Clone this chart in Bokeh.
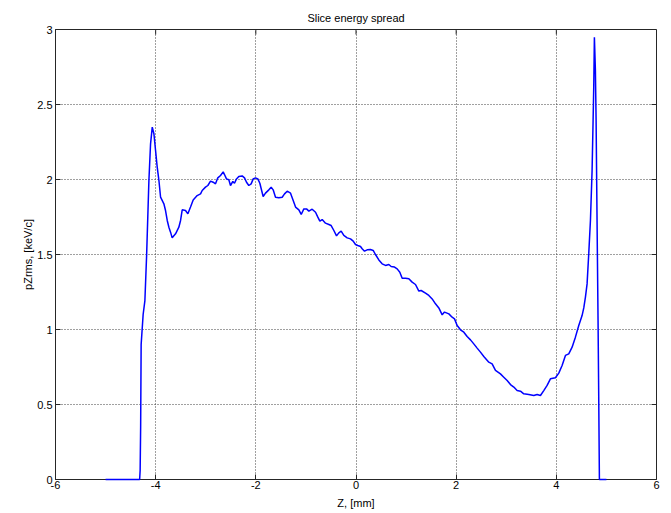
import math
from bokeh.plotting import figure
from bokeh.models import FixedTicker, Range1d
from bokeh.embed import file_html
from bokeh.resources import INLINE

# ---- data ----
z_mm = [-5.00, -4.60, -4.32, -4.31, -4.30, -4.29, -4.27, -4.25, -4.215, -4.18, -4.135, -4.102,
        -4.068, -4.035, -4.002, -3.969, -3.935, -3.902, -3.836, -3.803, -3.769, -3.736, -3.703,
        -3.670, -3.603, -3.537, -3.503, -3.470, -3.404, -3.357, -3.304, -3.251, -3.171, -3.104,
        -3.071, -3.005, -2.958, -2.905, -2.852, -2.805, -2.759, -2.705, -2.652, -2.626, -2.586,
        -2.539, -2.506, -2.459, -2.426, -2.386, -2.340, -2.273, -2.226, -2.186, -2.140, -2.093,
        -2.053, -2.007, -1.960, -1.920, -1.854, -1.807, -1.740, -1.694, -1.654, -1.607, -1.541,
        -1.474, -1.427, -1.374, -1.307, -1.254, -1.207, -1.141, -1.094, -1.041, -0.988, -0.941,
        -0.875, -0.808, -0.762, -0.722, -0.675, -0.609, -0.542, -0.496, -0.442, -0.389, -0.343,
        -0.296, -0.243, -0.176, -0.110, -0.056, -0.010, 0.037, 0.090, 0.123, 0.170, 0.223,
        0.289, 0.343, 0.389, 0.456, 0.522, 0.589, 0.656, 0.702, 0.769, 0.822, 0.875, 0.922,
        0.988, 1.055, 1.121, 1.188, 1.255, 1.301, 1.388, 1.454, 1.521, 1.587, 1.654, 1.721,
        1.767, 1.854, 1.920, 1.967, 2.020, 2.086, 2.153, 2.219, 2.286, 2.352, 2.419, 2.485,
        2.552, 2.652, 2.718, 2.785, 2.884, 2.951, 3.018, 3.084, 3.151, 3.217, 3.284, 3.350,
        3.450, 3.550, 3.616, 3.683, 3.749, 3.816, 3.882, 3.982, 4.049, 4.115, 4.182, 4.248,
        4.315, 4.381, 4.448, 4.514, 4.548, 4.581, 4.614, 4.647, 4.681, 4.714, 4.734, 4.747,
        4.760, 4.780, 4.794, 4.813, 4.833, 4.847, 4.860, 5.000]
pz_rms = [0.000, 0.000, 0.000, 0.060, 0.350, 0.900, 1.000, 1.100, 1.193, 1.500, 1.993, 2.238,
          2.349, 2.305, 2.193, 2.082, 1.993, 1.882, 1.838, 1.793, 1.727, 1.682, 1.649,
          1.611, 1.638, 1.682, 1.727, 1.798, 1.793, 1.771, 1.816, 1.864, 1.893, 1.904,
          1.927, 1.949, 1.960, 1.989, 1.982, 1.971, 2.011, 2.027, 2.051, 2.033, 2.004,
          1.998, 1.960, 1.987, 1.975, 2.004, 2.020, 2.024, 2.011, 1.982, 1.960, 1.971,
          2.004, 2.011, 2.004, 1.975, 1.887, 1.909, 1.931, 1.949, 1.931, 1.882, 1.878,
          1.882, 1.904, 1.922, 1.909, 1.860, 1.816, 1.798, 1.767, 1.804, 1.804, 1.789,
          1.802, 1.782, 1.749, 1.722, 1.733, 1.709, 1.700, 1.693, 1.660, 1.624, 1.644,
          1.656, 1.627, 1.611, 1.604, 1.589, 1.567, 1.560, 1.553, 1.538, 1.522, 1.531,
          1.533, 1.527, 1.500, 1.464, 1.438, 1.427, 1.433, 1.420, 1.416, 1.404, 1.382, 1.342,
          1.342, 1.338, 1.316, 1.300, 1.256, 1.260, 1.242, 1.227, 1.204, 1.171, 1.144, 1.098,
          1.116, 1.104, 1.082, 1.071, 1.027, 0.998, 0.982, 0.953, 0.931, 0.904, 0.876, 0.849,
          0.820, 0.782, 0.771, 0.727, 0.704, 0.682, 0.660, 0.633, 0.616, 0.593, 0.589, 0.571,
          0.567, 0.560, 0.567, 0.560, 0.593, 0.627, 0.671, 0.678, 0.709, 0.760, 0.827, 0.838,
          0.882, 0.949, 1.027, 1.093, 1.144, 1.216, 1.304, 1.504, 1.727, 2.060, 2.393, 2.616,
          2.949, 2.727, 2.393, 1.727, 1.060, 0.527, 0.000, 0.000]

x_min, x_max = -6, 6
y_min, y_max = 0, 3
x_ticks = [-6, -4, -2, 0, 2, 4, 6]
x_tick_labels = ["-6", "-4", "-2", "0", "2", "4", "6"]
y_ticks = [0, 0.5, 1, 1.5, 2, 2.5, 3]
y_tick_labels = ["0", "0.5", "1", "1.5", "2", "2.5", "3"]

FONT = "Liberation Sans"
FRAME = "#262626"

p = figure(width=671, height=513, output_backend="svg", toolbar_location=None,
           x_range=Range1d(x_min, x_max), y_range=Range1d(y_min, y_max),
           min_border_left=55, min_border_right=15, min_border_top=29, min_border_bottom=34,
           title="Slice energy spread")
p.background_fill_color = "white"
p.border_fill_color = "white"
p.outline_line_color = FRAME
p.outline_line_width = 1

p.title.align = "center"
p.title.text_font = FONT
p.title.text_font_size = "11px"
p.title.text_font_style = "normal"
p.title.text_color = "black"
p.title.standoff = 12

for g in (p.xgrid[0], p.ygrid[0]):
    g.grid_line_color = "#404040"
    g.grid_line_dash = "1 2"
    g.grid_line_width = 1

for ax, ticks, labels in ((p.xaxis[0], x_ticks, x_tick_labels), (p.yaxis[0], y_ticks, y_tick_labels)):
    ax.ticker = FixedTicker(ticks=ticks)
    ax.major_label_overrides = {t: l for t, l in zip(ticks, labels)}
    ax.major_tick_in = 5
    ax.major_tick_out = 0
    ax.minor_tick_line_color = None
    ax.axis_line_color = FRAME
    ax.major_tick_line_color = FRAME
    ax.major_label_text_font = FONT
    ax.major_label_text_font_size = "11px"
    ax.major_label_text_color = "black"
    ax.axis_label_text_font = FONT
    ax.axis_label_text_font_size = "11px"
    ax.axis_label_text_font_style = "normal"
    ax.axis_label_text_color = "black"

p.xaxis[0].axis_label = "Z, [mm]"
p.yaxis[0].axis_label = "pZrms, [keV/c]"
p.xaxis[0].major_label_standoff = 1
p.yaxis[0].major_label_standoff = 3
p.xaxis[0].axis_label_standoff = 5
p.yaxis[0].axis_label_standoff = 0

# mirrored tick marks on the top and right edges of the box (inward, 5 px)
p.ray(x=x_ticks, y=[y_max] * len(x_ticks), length=5, length_units="screen",
      angle=-math.pi / 2, line_color=FRAME, line_width=1)
p.ray(x=[x_max] * len(y_ticks), y=y_ticks, length=5, length_units="screen",
      angle=math.pi, line_color=FRAME, line_width=1)

r = p.line(z_mm, pz_rms, line_color="#0000ff", line_width=1.5)
r.level = "overlay"

open("out.html", "w").write(file_html(p, INLINE))
